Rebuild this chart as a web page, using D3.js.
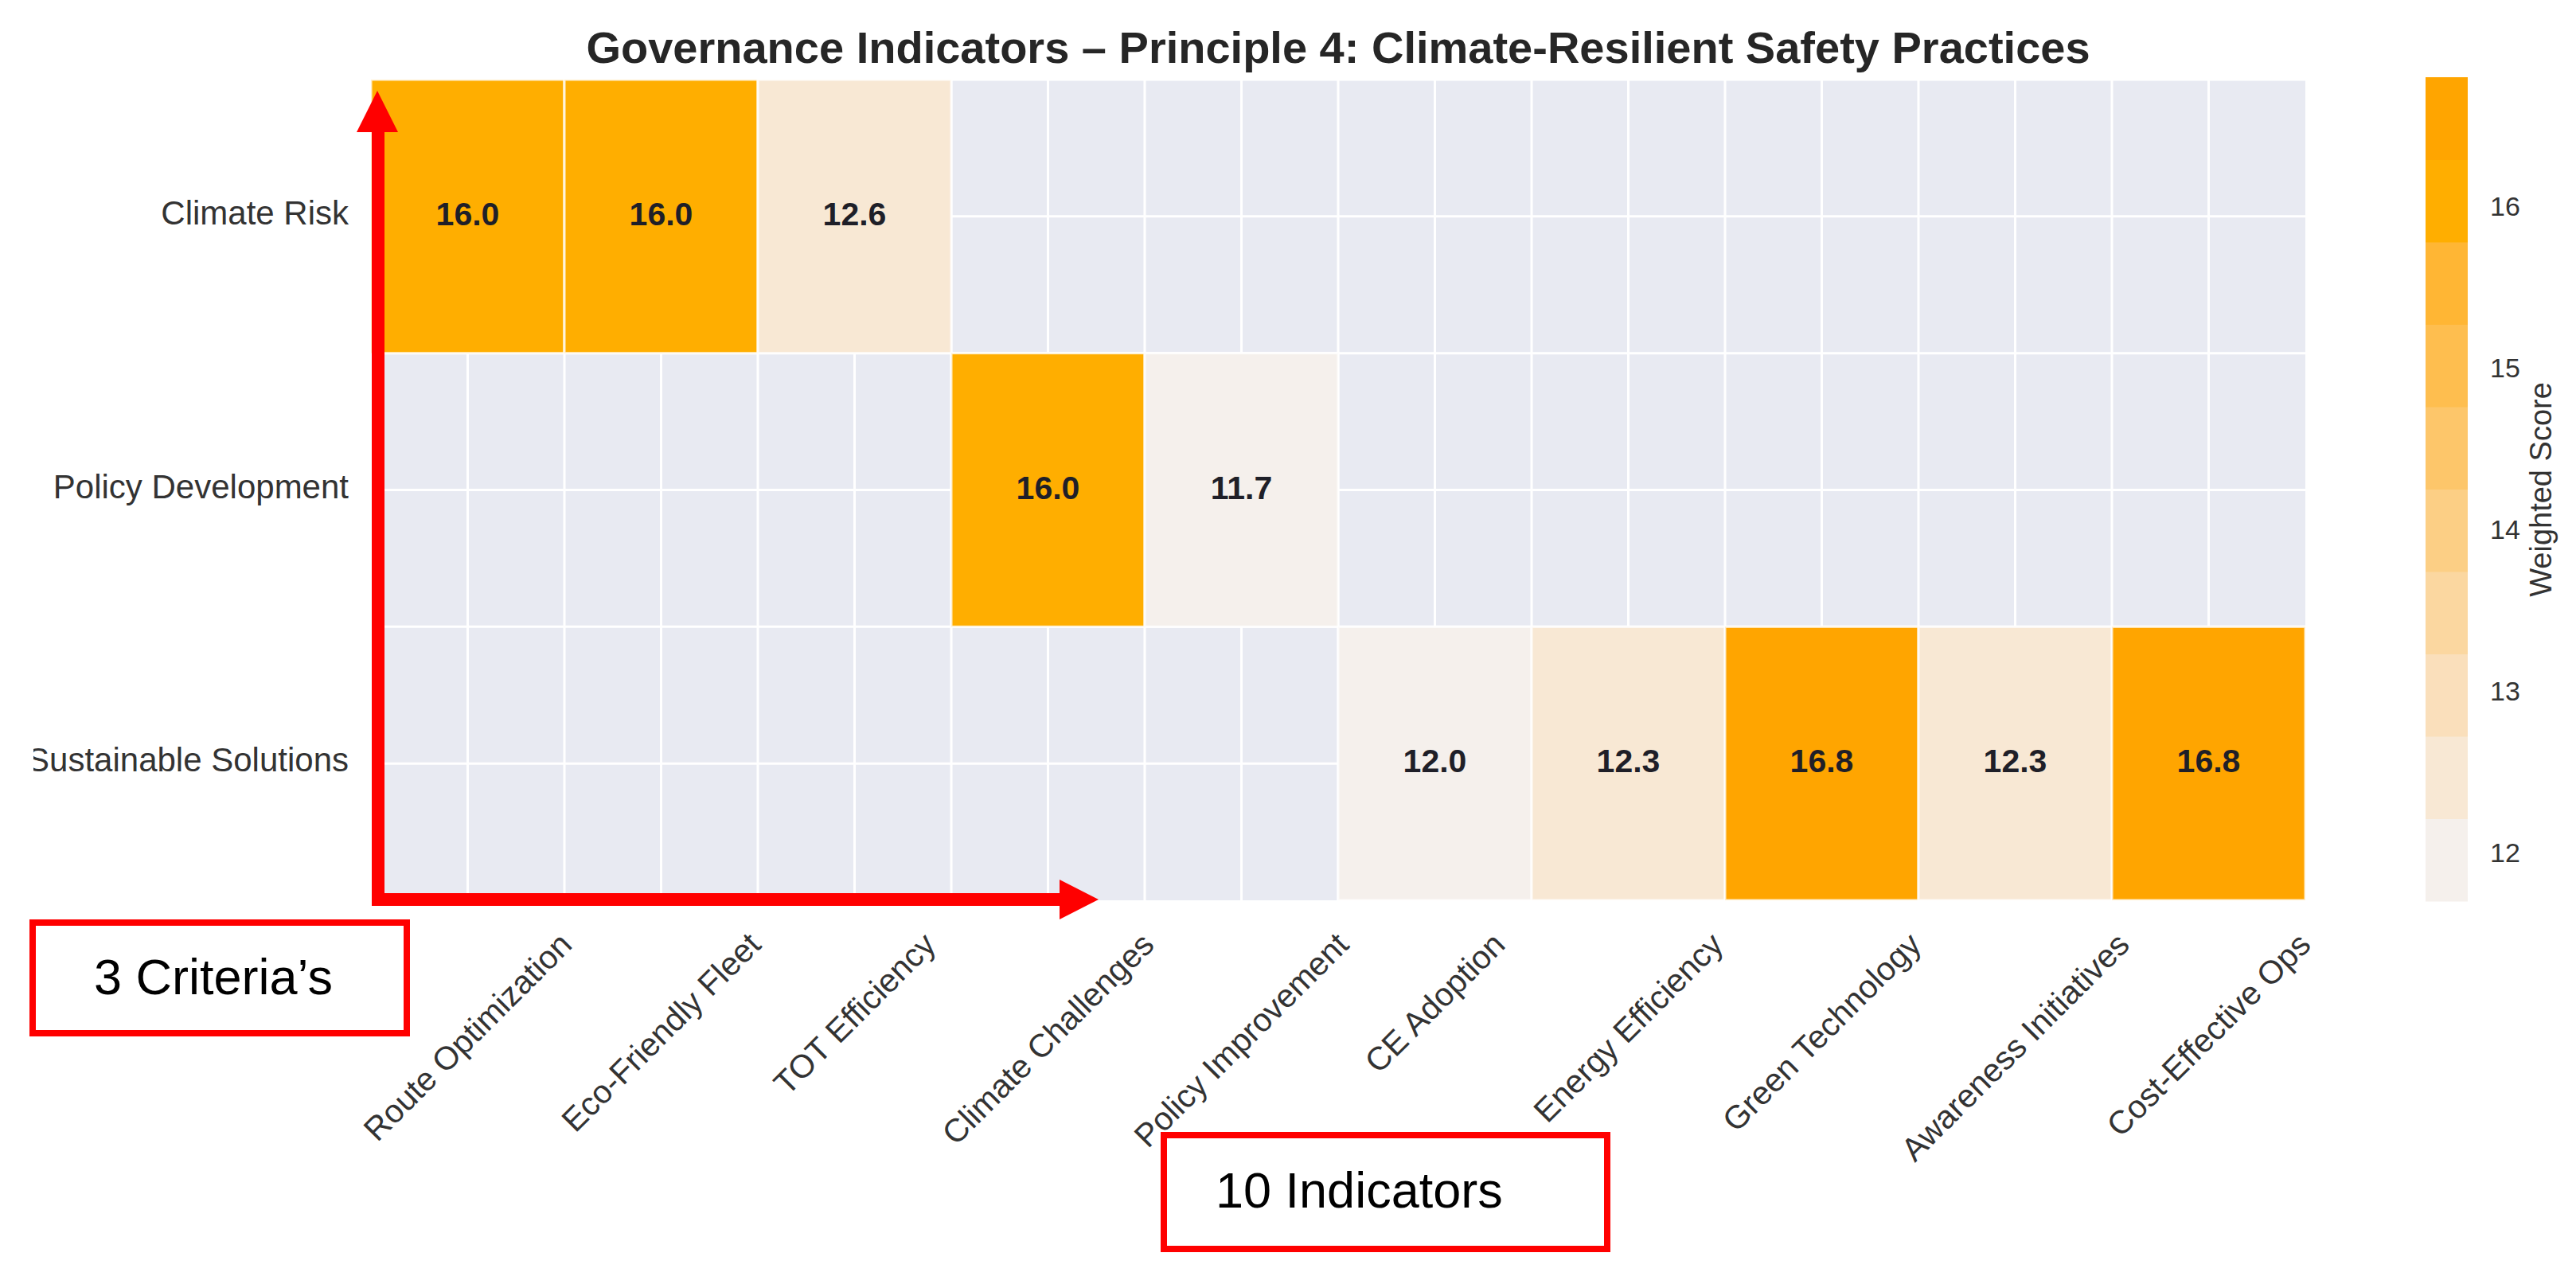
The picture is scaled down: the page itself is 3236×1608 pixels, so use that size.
<!DOCTYPE html>
<html>
<head>
<meta charset="utf-8">
<script src="https://cdn.jsdelivr.net/npm/d3@7"></script>
<style>
  body { margin: 0; background: #fff; }
  svg text { font-family: "Liberation Sans", Arial, sans-serif; }
</style>
</head>
<body>
<div id="chart"></div>
<script>
const W = 3236, H = 1608;

const criteria = ["Climate Risk", "Policy Development", "Sustainable Solutions"];
const indicators = ["Route Optimization", "Eco-Friendly Fleet", "TOT Efficiency", "Climate Challenges",
    "Policy Improvement", "CE Adoption", "Energy Efficiency", "Green Technology",
    "Awareness Initiatives", "Cost-Effective Ops"];

// weighted scores, null = no link between criterion and indicator
const climateRisk = [16.0, 16.0, 12.6, null, null, null, null, null, null, null];
const policyDev   = [null, null, null, 16.0, 11.7, null, null, null, null, null];
const sustSol     = [null, null, null, null, null, 12.0, 12.3, 16.8, 12.3, 16.8];
const scores = [climateRisk, policyDev, sustSol];

const cbarTicks = [12, 13, 14, 15, 16];
// 10-step light orange palette
const palette = ["#f5f0ec", "#f8e8d4", "#fadfbb", "#fbd7a0", "#fccf85",
                 "#fdc66a", "#febe4f", "#ffb634", "#ffae00", "#ffa500"];

const svg = d3.select("#chart").append("svg")
    .attr("width", W).attr("height", H);
svg.append("rect").attr("width", W).attr("height", H).attr("fill", "#fff");

const x = d3.scaleBand().domain(indicators).range([466, 2896]);
const y = d3.scaleBand().domain(criteria).range([100, 1131]);

const cells = [];
scores.forEach((r, i) => r.forEach((v, j) => {
    if (v != null) cells.push({ row: criteria[i], col: indicators[j], v: v });
}));
const vals = cells.map(d => d.v);
const vmin = d3.min(vals), vmax = d3.max(vals);

const color = d3.scaleQuantize().domain([vmin, vmax]).range(palette);

// axes background (seaborn darkgrid)
svg.append("rect")
    .attr("x", x.range()[0]).attr("y", y.range()[0])
    .attr("width", x.range()[1] - x.range()[0])
    .attr("height", y.range()[1] - y.range()[0])
    .attr("fill", "#e8eaf2");

// grid lines at every half cell
const grid = svg.append("g").attr("stroke", "#fff").attr("stroke-width", 3);
const xg = [];
indicators.forEach(d => { xg.push(x(d)); xg.push(x(d) + x.bandwidth() / 2); });
const yg = [];
criteria.forEach(d => { yg.push(y(d)); yg.push(y(d) + y.bandwidth() / 2); });
grid.selectAll(".vx").data(xg).join("line")
    .attr("x1", d => d).attr("x2", d => d)
    .attr("y1", y.range()[0]).attr("y2", y.range()[1]);
grid.selectAll(".hy").data(yg).join("line")
    .attr("y1", d => d).attr("y2", d => d)
    .attr("x1", x.range()[0]).attr("x2", x.range()[1]);

// cells
svg.append("g").selectAll("rect").data(cells).join("rect")
    .attr("x", d => x(d.col)).attr("y", d => y(d.row))
    .attr("width", x.bandwidth()).attr("height", y.bandwidth())
    .attr("fill", d => color(d.v))
    .attr("stroke", "#fff").attr("stroke-opacity", 0.8).attr("stroke-width", 3);

svg.append("g").selectAll("text").data(cells).join("text")
    .attr("x", d => x(d.col) + x.bandwidth() / 2)
    .attr("y", d => y(d.row) + y.bandwidth() / 2 + 11)
    .attr("text-anchor", "middle")
    .attr("font-size", 41).attr("font-weight", "bold")
    .attr("fill", "#1f1f28")
    .text(d => d.v.toFixed(1));

// title
svg.append("text")
    .attr("x", (x.range()[0] + x.range()[1]) / 2).attr("y", 79)
    .attr("text-anchor", "middle")
    .attr("font-size", 56).attr("font-weight", "bold").attr("fill", "#262626")
    .text("Governance Indicators \u2013 Principle 4: Climate-Resilient Safety Practices");

// y tick labels (left side cropped in the source)
svg.append("clipPath").attr("id", "ycrop")
    .append("rect").attr("x", 42).attr("y", 0).attr("width", W).attr("height", H);
svg.append("g").attr("clip-path", "url(#ycrop)")
    .selectAll("text").data(criteria).join("text")
    .attr("x", 438)
    .attr("y", d => y(d) + y.bandwidth() / 2 + 10)
    .attr("text-anchor", "end")
    .attr("font-size", 42).attr("fill", "#333")
    .text(d => d);

// x tick labels, rotated 45, bbox centered on tick
const fx = 41, top0 = 1163;
const xl = svg.append("g").selectAll("text").data(indicators).join("text")
    .attr("text-anchor", "middle")
    .attr("dominant-baseline", "central")
    .attr("font-size", fx).attr("fill", "#333")
    .text(d => d);
xl.each(function (d) {
    const L = this.getComputedTextLength();
    const half = (L + 1.12 * fx) * Math.SQRT1_2 / 2;
    const cx = x(d) + x.bandwidth() / 2, cy = top0 + half;
    d3.select(this).attr("x", cx).attr("y", cy)
        .attr("transform", `rotate(-45,${cx},${cy})`);
});

// colorbar
const cb = d3.scaleLinear().domain([vmin, vmax]).range([1132, 97]);
const step = (vmax - vmin) / palette.length;
const bands = palette.map((c, i) => ({ c: c, lo: vmin + i * step, hi: vmin + (i + 1) * step }));
svg.append("g").selectAll("rect").data(bands).join("rect")
    .attr("x", 3047).attr("width", 53)
    .attr("y", d => cb(d.hi)).attr("height", d => cb(d.lo) - cb(d.hi) + 0.5)
    .attr("fill", d => d.c);

const cax = svg.append("g").attr("transform", "translate(3100,0)")
    .call(d3.axisRight(cb).tickValues(cbarTicks).tickFormat(d3.format("d"))
        .tickSize(0).tickPadding(28));
cax.select(".domain").remove();
cax.selectAll("text").attr("font-size", 34).attr("fill", "#333")
    .attr("font-family", "Liberation Sans, Arial, sans-serif");

svg.append("text")
    .attr("transform", "translate(3192,615) rotate(-90)")
    .attr("text-anchor", "middle")
    .attr("dominant-baseline", "central")
    .attr("font-size", 38).attr("fill", "#333")
    .text("Weighted Score");

// red annotations
const red = "#ff0000";
const ann = svg.append("g");
ann.append("rect").attr("x", 467).attr("y", 160).attr("width", 16).attr("height", 978).attr("fill", red);
ann.append("path").attr("d", "M448,166 L474,114 L500,166 Z").attr("fill", red);
ann.append("rect").attr("x", 467).attr("y", 1122).attr("width", 870).attr("height", 16).attr("fill", red);
ann.append("path").attr("d", "M1331,1105 L1380,1130 L1331,1155 Z").attr("fill", red);

ann.append("rect").attr("x", 41).attr("y", 1159).attr("width", 470).attr("height", 139)
    .attr("fill", "#fff").attr("stroke", red).attr("stroke-width", 8);
ann.append("text").attr("x", 118).attr("y", 1249)
    .attr("font-size", 63).attr("fill", "#000").text("3 Criteria\u2019s");

ann.append("rect").attr("x", 1462).attr("y", 1426).attr("width", 557).attr("height", 143)
    .attr("fill", "#fff").attr("stroke", red).attr("stroke-width", 8);
ann.append("text").attr("x", 1527).attr("y", 1517)
    .attr("font-size", 63).attr("fill", "#000").text("10 Indicators");
</script>
</body>
</html>
